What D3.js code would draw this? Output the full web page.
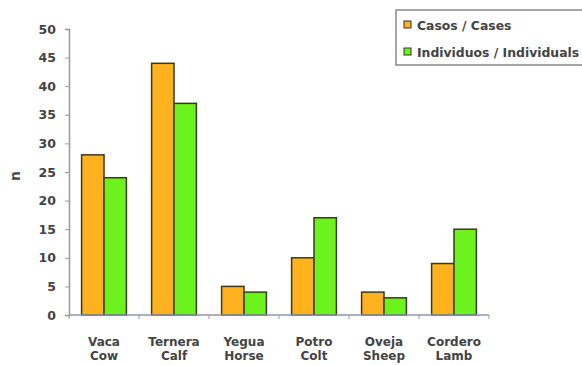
<!DOCTYPE html>
<html>
<head>
<meta charset="utf-8">
<script src="https://cdn.jsdelivr.net/npm/d3@7"></script>
<style>
  html, body { margin: 0; padding: 0; background: #fff; }
  svg { display: block; }
  text { font-family: "DejaVu Sans", Arial, sans-serif; font-weight: bold; fill: #444; }
</style>
</head>
<body>
<svg id="chart" width="582" height="365"></svg>
<script>
// Animal categories (Spanish / English)
const categoriesEs = ["Vaca", "Ternera", "Yegua", "Potro", "Oveja", "Cordero"];
const categoriesEn = ["Cow", "Calf", "Horse", "Colt", "Sheep", "Lamb"];
// Series values
const casos = [28, 44, 5, 10, 4, 9];
const individuos = [24, 37, 4, 17, 3, 15];
const seriesNames = ["Casos / Cases", "Individuos / Individuals"];
const seriesColors = ["#FFB21E", "#6CF21C"];
const yTicks = [0, 5, 10, 15, 20, 25, 30, 35, 40, 45, 50];

const svg = d3.select("#chart");
const margin = { left: 69, right: 93, top: 29, bottom: 50 };
const width = 582 - margin.left - margin.right;
const height = 365 - margin.top - margin.bottom;

const g = svg.append("g").attr("transform", `translate(${margin.left},${margin.top})`);

const x0 = d3.scaleBand().domain(categoriesEs).range([0, width]).paddingInner(0.36).paddingOuter(0.18);
const x1 = d3.scaleBand().domain(seriesNames).range([0, x0.bandwidth()]);
const y = d3.scaleLinear().domain([0, 50]).range([height, 0]);

const data = categoriesEs.map((c, i) => ({ cat: c, vals: [casos[i], individuos[i]] }));

// Bars
const groups = g.selectAll(".grp").data(data).join("g")
  .attr("class", "grp")
  .attr("transform", d => `translate(${x0(d.cat)},0)`);
groups.selectAll("rect").data(d => d.vals.map((v, j) => ({ v, s: seriesNames[j], j })))
  .join("rect")
  .attr("x", d => x1(d.s))
  .attr("y", d => y(d.v))
  .attr("width", x1.bandwidth())
  .attr("height", d => y(0) - y(d.v))
  .attr("fill", d => seriesColors[d.j])
  .attr("stroke", "#3a3a1a")
  .attr("stroke-width", 1.5);

// Y axis
const yAxis = g.append("g").call(d3.axisLeft(y).tickValues(yTicks).tickSize(4).tickPadding(9));
yAxis.select(".domain").attr("stroke", "#9a9a9a").attr("stroke-width", 1.5);
yAxis.selectAll(".tick line").attr("stroke", "#9a9a9a");
yAxis.selectAll("text").style("font-size", "12.5px").attr("fill", "#555");

// X axis: tick marks at category boundaries
const bounds = d3.range(categoriesEs.length + 1).map(i => i * width / categoriesEs.length);
const xAxis = g.append("g").attr("transform", `translate(0,${height})`);
xAxis.append("line").attr("x1", 0).attr("x2", width).attr("stroke", "#8f98a8").attr("stroke-width", 1.5);
xAxis.selectAll(".xt").data(bounds).join("line")
  .attr("x1", d => d).attr("x2", d => d).attr("y1", 0).attr("y2", 4)
  .attr("stroke", "#9a9a9a");

// Category labels, two lines
const lab = xAxis.selectAll(".lab").data(data).join("text")
  .attr("class", "lab")
  .attr("text-anchor", "middle")
  .style("font-size", "12px")
  .attr("fill", "#444")
  .attr("transform", d => `translate(${x0(d.cat) + x0.bandwidth() / 2},0)`);
lab.append("tspan").attr("x", 0).attr("y", 31).text(d => d.cat);
lab.append("tspan").attr("x", 0).attr("y", 45).text((d, i) => categoriesEn[i]);

// Y axis title
svg.append("text")
  .attr("transform", "translate(20,176) rotate(-90)")
  .attr("text-anchor", "middle")
  .style("font-size", "14px")
  .attr("fill", "#333")
  .text("n");

// Legend
const leg = svg.append("g").attr("transform", "translate(396,10)");
leg.append("rect").attr("x", 0).attr("y", 0).attr("width", 200).attr("height", 55)
  .attr("fill", "#fff").attr("stroke", "#888").attr("stroke-width", 1.5);
seriesNames.forEach((s, i) => {
  const yy = 15 + i * 27;
  leg.append("rect").attr("x", 8).attr("y", yy - 4).attr("width", 7).attr("height", 7)
    .attr("fill", seriesColors[i]).attr("stroke", "#333").attr("stroke-width", 1);
  leg.append("text").attr("x", 21).attr("y", yy + 4.5)
    .style("font-size", "12.4px").attr("fill", "#444").text(s);
});
</script>
</body>
</html>
